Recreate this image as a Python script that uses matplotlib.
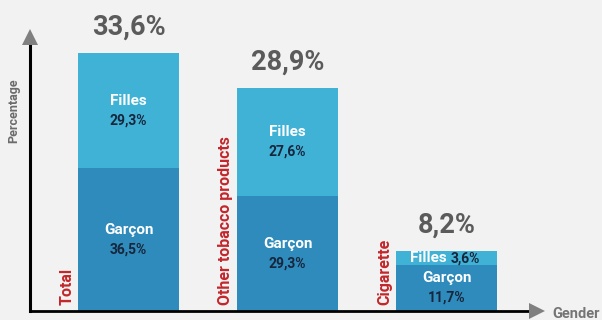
#!/usr/bin/env python3

from matplotlib.pyplot import figure, rcParams, savefig, close
from numpy import array, arange

CATEGORIES = ["Total", "Other tobacco products", "Cigarette"]
OVERALL = [33.6, 28.9, 8.2]
BOYS = [36.5, 29.3, 11.7]
GIRLS = [29.3, 27.6, 3.6]
SEGMENT_NAMES = ["Garçon", "Filles"]

BG = "#f2f2f2"
LIGHT = "#40b2d6"
DARK = "#2e8bbc"
RED = "#c3262b"
GREY = "#5b5b5b"
NAVY = "#17263c"
HEAD = "#808080"

rcParams["font.family"] = ["Roboto", "DejaVu Sans"]


def pct(v):
    return "{:.1f}%".format(v).replace(".", ",")


def draw_axes_arrows(ax):
    kw = {"transform": ax.transAxes, "clip_on": False}
    ax.plot([0, 0], [0, 0.945], color="k", lw=2.2, zorder=3, **kw)
    ax.plot([0], [0.9716], marker="^", ms=11.5, mew=0, color=HEAD,
            zorder=3, **kw)
    ax.plot([0, 0.972], [0, 0], color="k", lw=2.0, zorder=3, **kw)
    ax.plot([0.984], [0], marker=">", ms=11.5, mew=0, color=HEAD,
            zorder=3, **kw)


def segment_label(ax, x, bottom, h, name, value):
    mid = bottom + h / 2
    y0 = ax.transData.transform((0, 0))[1]
    y1 = ax.transData.transform((0, h))[1]
    name_kw = {"color": "white", "fontsize": 11, "fontweight": "bold",
               "textcoords": "offset points", "va": "center"}
    val_kw = {"color": NAVY, "fontsize": 10, "fontweight": "bold",
              "textcoords": "offset points", "va": "center"}
    if y1 - y0 < 34:
        # not enough room for two lines: put both on one
        ax.annotate(name, (x, mid), xytext=(0, 0), ha="right", **name_kw)
        ax.annotate(pct(value), (x, mid), xytext=(3, 0), ha="left",
                    **val_kw)
    else:
        ax.annotate(name, (x, mid), xytext=(0, 7), ha="center", **name_kw)
        ax.annotate(pct(value), (x, mid), xytext=(0, -7), ha="center",
                    **val_kw)


def main():
    fig = figure(figsize=(6.02, 3.2), dpi=100, facecolor=BG)
    ax = fig.add_axes([30 / 602, 9 / 320, 515 / 602, 282 / 320])
    ax.set_facecolor(BG)
    for s in ax.spines.values():
        s.set_visible(False)
    ax.set_xticks([])
    ax.set_yticks([])

    xs = arange(len(CATEGORIES))
    boys = array(BOYS)
    girls = array(GIRLS)
    totals = boys + girls
    width = 0.63

    ax.set_xlim(-0.62, -0.62 + 515 / 159)
    ax.set_ylim(0, totals.max() * 282 / 258)

    ax.bar(xs, boys, width, color=DARK, zorder=2)
    ax.bar(xs, girls, width, bottom=boys, color=LIGHT, zorder=2)

    for i, x in enumerate(xs):
        segment_label(ax, x, 0, boys[i], SEGMENT_NAMES[0], boys[i])
        segment_label(ax, x, boys[i], girls[i], SEGMENT_NAMES[1], girls[i])
        ax.annotate(pct(OVERALL[i]), (x, totals[i]), xytext=(0, 13),
                    textcoords="offset points", ha="center", va="baseline",
                    fontsize=19.5, fontweight="bold", color=GREY)
        ax.annotate(CATEGORIES[i], (x - width / 2, 0), xytext=(-3, 4),
                    textcoords="offset points", ha="right", va="bottom",
                    rotation=90, fontsize=11.5, fontweight="bold", color=RED)

    draw_axes_arrows(ax)
    ax.annotate("Gender", (1, 0), xycoords="axes fraction", xytext=(5, -2),
                textcoords="offset points", ha="left", va="center",
                fontsize=10.5, fontweight="bold", color="#757575")
    fig.text(14 / 602, 1 - 111 / 320, "Percentage", rotation=90,
             ha="center", va="center", fontsize=9, fontweight="bold",
             color="#6b6b6b")

    savefig("out.png", dpi=100, facecolor=BG)
    close()


if __name__ == "__main__":
    main()
